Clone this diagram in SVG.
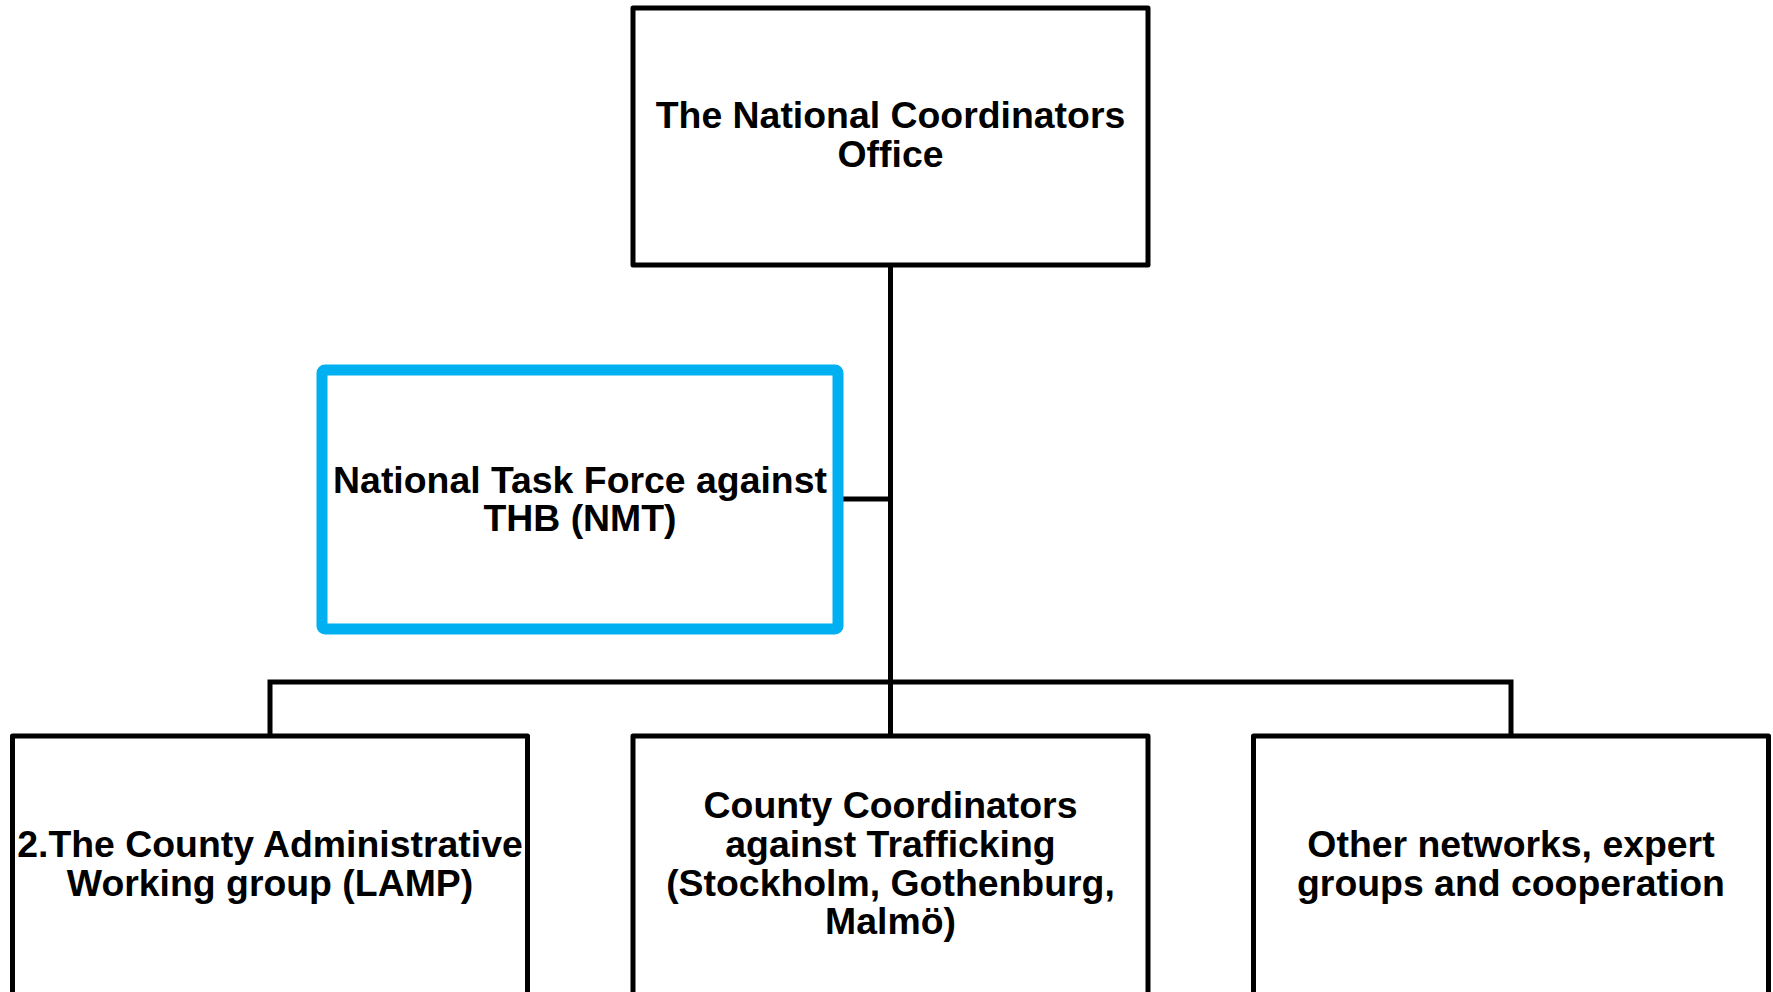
<svg xmlns="http://www.w3.org/2000/svg" width="1773" height="992" viewBox="0 0 1773 992">
<style>
.box{fill:#fff;stroke:#000;stroke-width:5;stroke-linejoin:round}
.nmt{fill:#fff;stroke:#00B0F0;stroke-width:11;stroke-linejoin:round}
.t{font-family:"Liberation Sans",Arial,sans-serif;font-weight:bold;font-size:37.4px;fill:#000;text-anchor:middle}
.c{fill:none;stroke:#000;stroke-width:5}
</style>
<rect width="1773" height="992" fill="#fff"/>
<g id="connectors">
<line class="c" x1="890.5" y1="265" x2="890.5" y2="736"/>
<line class="c" x1="841" y1="499" x2="890.5" y2="499"/>
<polyline class="c" points="270,736 270,682 1511,682 1511,736"/>
</g>
<g id="national-office">
<rect class="box" x="633" y="8" width="515" height="257"/>
<text class="t" x="890.5" y="128">The National Coordinators</text>
<text class="t" x="890.5" y="167">Office</text>
</g>
<g id="nmt">
<rect class="nmt" x="322" y="370" width="516" height="259" rx="3"/>
<text class="t" x="580" y="493">National Task Force against</text>
<text class="t" x="580" y="531">THB (NMT)</text>
</g>
<g id="lamp">
<rect class="box" x="12.5" y="736" width="515" height="270"/>
<text class="t" x="270" y="857">2.The County Administrative</text>
<text class="t" x="270" y="896">Working group (LAMP)</text>
</g>
<g id="county-coordinators">
<rect class="box" x="633" y="736" width="515" height="270"/>
<text class="t" x="890.5" y="818">County Coordinators</text>
<text class="t" x="890.5" y="857">against Trafficking</text>
<text class="t" x="890.5" y="896">(Stockholm, Gothenburg,</text>
<text class="t" x="890.5" y="934">Malmö)</text>
</g>
<g id="other-networks">
<rect class="box" x="1253.5" y="736" width="515" height="270"/>
<text class="t" x="1511" y="857">Other networks, expert</text>
<text class="t" x="1511" y="896">groups and cooperation</text>
</g>
</svg>
